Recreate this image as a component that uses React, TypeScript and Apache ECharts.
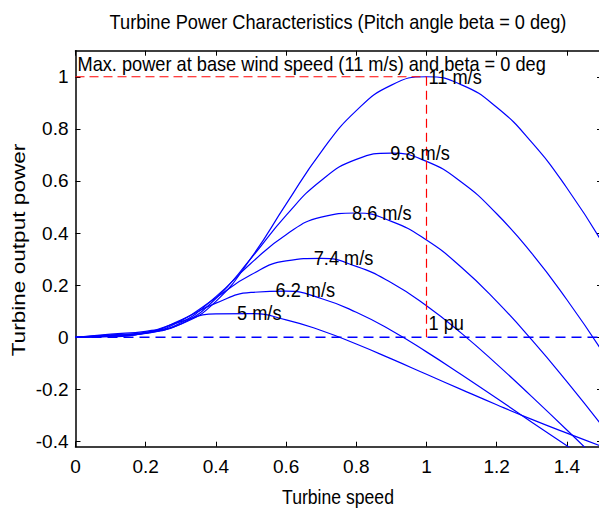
import React, { useEffect, useRef } from "react";
import * as echarts from "echarts";

// Turbine speed (pu) sample positions
const xs = [0, 0.1, 0.2, 0.3, 0.4, 0.5, 0.6, 0.7, 0.8, 0.9, 1.0, 1.1, 1.2, 1.3, 1.4, 1.5];

// Turbine output power (pu) for each wind speed
const p11 = [0, 0.012, 0.023, 0.05, 0.138, 0.304, 0.511, 0.712, 0.87, 0.968, 1.0, 0.969, 0.883, 0.748, 0.573, 0.366];
const p98 = [0, 0.009, 0.019, 0.051, 0.149, 0.303, 0.468, 0.602, 0.683, 0.707, 0.675, 0.595, 0.474, 0.322, 0.144, -0.052];
const p86 = [0, 0.007, 0.016, 0.056, 0.156, 0.284, 0.394, 0.461, 0.477, 0.445, 0.373, 0.268, 0.138, -0.01, -0.17, -0.339];
const p74 = [0, 0.005, 0.015, 0.063, 0.152, 0.24, 0.293, 0.303, 0.272, 0.209, 0.121, 0.015, -0.103, -0.228, -0.356, -0.487];
const p62 = [0, 0.004, 0.016, 0.066, 0.131, 0.172, 0.177, 0.149, 0.096, 0.026, -0.056, -0.144, -0.234, -0.326, -0.416, -0.505];
const p5 = [0, 0.002, 0.018, 0.06, 0.09, 0.091, 0.067, 0.026, -0.026, -0.083, -0.142, -0.201, -0.259, -0.315, -0.368, -0.419];

const curves = [p11, p98, p86, p74, p62, p5];

// Curve labels placed at each curve's peak
const curveLabels = ["11 m/s", "9.8 m/s", "8.6 m/s", "7.4 m/s", "6.2 m/s", "5 m/s"];
const labelX = [1.0, 0.891, 0.782, 0.673, 0.564, 0.4545];
const labelY = [1.0, 0.707, 0.478, 0.304, 0.179, 0.094];

// Other annotations
const noteTexts = ["Max. power at base wind speed (11 m/s) and beta = 0 deg", "1 pu"];
const noteX = [0, 1.0];
const noteY = [1.05, 0.055];

// Reference lines
const maxLineH = [[0, 1], [1, 1]];
const maxLineV = [[1, 1], [1, 0]];
const zeroLine = [[0, 0], [1.5, 0]];

// Ticks
const xTicks = [0, 0.2, 0.4, 0.6, 0.8, 1, 1.2, 1.4];
const yTicks = [-0.4, -0.2, 0, 0.2, 0.4, 0.6, 0.8, 1];

const titleText = "Turbine Power Characteristics (Pitch angle beta = 0 deg)";
const xName = "Turbine speed";
const yName = "Turbine output power";

const FONT = "'Liberation Sans', Arial, Helvetica, sans-serif";

export default function App() {
  const ref = useRef<HTMLDivElement>(null);

  useEffect(() => {
    const chart = echarts.init(ref.current!, null, { renderer: "svg" });
    const L = 75.5;
    const T = 50.7;
    const W = 526.5;
    const H = 396;

    const axisLineStyle = { color: "#000", width: 1.5 };
    const tickStyle = { color: "#000", width: 1 };
    const labelStyle = { color: "#000", fontSize: 19, fontFamily: FONT };

    const mkX = (pos: string, labels: boolean) => ({
      type: "value",
      min: 0,
      max: 1.5,
      position: pos,
      axisLine: { show: true, onZero: false, lineStyle: axisLineStyle },
      axisTick: { show: true, inside: true, length: 5, customValues: xTicks, lineStyle: tickStyle },
      axisLabel: labels
        ? { show: true, customValues: xTicks, margin: 10, ...labelStyle, formatter: (v: number) => String(v) }
        : { show: false },
      splitLine: { show: false },
    });
    const mkY = (pos: string, labels: boolean) => ({
      type: "value",
      min: -0.42,
      max: 1.1,
      position: pos,
      axisLine: { show: true, onZero: false, lineStyle: axisLineStyle },
      axisTick: { show: true, inside: true, length: 5, customValues: yTicks, lineStyle: tickStyle },
      axisLabel: labels
        ? { show: true, customValues: yTicks, margin: 7, ...labelStyle, formatter: (v: number) => String(v) }
        : { show: false },
      splitLine: { show: false },
    });

    const curveSeries = curves.map((p, i) => ({
      type: "line",
      name: curveLabels[i],
      data: xs.map((x, j) => [x, p[j]]),
      showSymbol: false,
      symbol: "none",
      smooth: true,
      lineStyle: { color: "#0000ff", width: 1.2 },
      z: 2,
    }));

    const refLine = (data: number[][], color: string, width: number, dash: number[]) => ({
      type: "line",
      data,
      showSymbol: false,
      symbol: "none",
      lineStyle: { color, width, type: dash },
      z: 3,
    });

    chart.setOption({
      animation: false,
      backgroundColor: "#fff",
      grid: { left: L, top: T, width: W, height: H, containLabel: false },
      xAxis: [mkX("bottom", true), mkX("top", false)],
      yAxis: [mkY("left", true), mkY("right", false)],
      series: [
        ...curveSeries,
        refLine(zeroLine, "#0000ff", 1.5, [10, 6]),
        refLine(maxLineH, "#ff0000", 1.2, [9, 5]),
        refLine(maxLineV, "#ff0000", 1.2, [9, 5]),
      ],
    });

    const toPx = (x: number, y: number) =>
      chart.convertToPixel({ xAxisIndex: 0, yAxisIndex: 0 }, [x, y]) as number[];

    const annot = (text: string, x: number, y: number) => {
      const p = toPx(x, y);
      return {
        type: "text",
        x: p[0] + 2,
        y: p[1],
        scaleX: 0.91,
        z: 10,
        style: { text, align: "left", verticalAlign: "middle", fill: "#000", fontSize: 20, fontFamily: FONT },
      };
    };

    const annotations = curveLabels
      .map((t, i) => annot(t, labelX[i], labelY[i]))
      .concat(noteTexts.map((t, i) => annot(t, noteX[i], noteY[i])));

    chart.setOption({
      graphic: [
        {
          type: "text",
          x: 338,
          y: 22.5,
          scaleX: 0.91,
          style: { text: titleText, align: "center", verticalAlign: "middle", fill: "#000", fontSize: 20, fontFamily: FONT },
        },
        {
          type: "text",
          x: 338,
          y: 497,
          scaleX: 0.88,
          style: { text: xName, align: "center", verticalAlign: "middle", fill: "#000", fontSize: 20, fontFamily: FONT },
        },
        {
          type: "text",
          x: 18.5,
          y: 250,
          rotation: Math.PI / 2,
          scaleX: 1.19,
          style: { text: yName, align: "center", verticalAlign: "middle", fill: "#000", fontSize: 19, fontFamily: FONT },
        },
        ...annotations,
      ],
    });

    return () => chart.dispose();
  }, []);

  return (
    <div
      ref={ref}
      style={{ position: "fixed", left: 0, top: 0, width: 610, height: 510, background: "#fff" }}
    />
  );
}
